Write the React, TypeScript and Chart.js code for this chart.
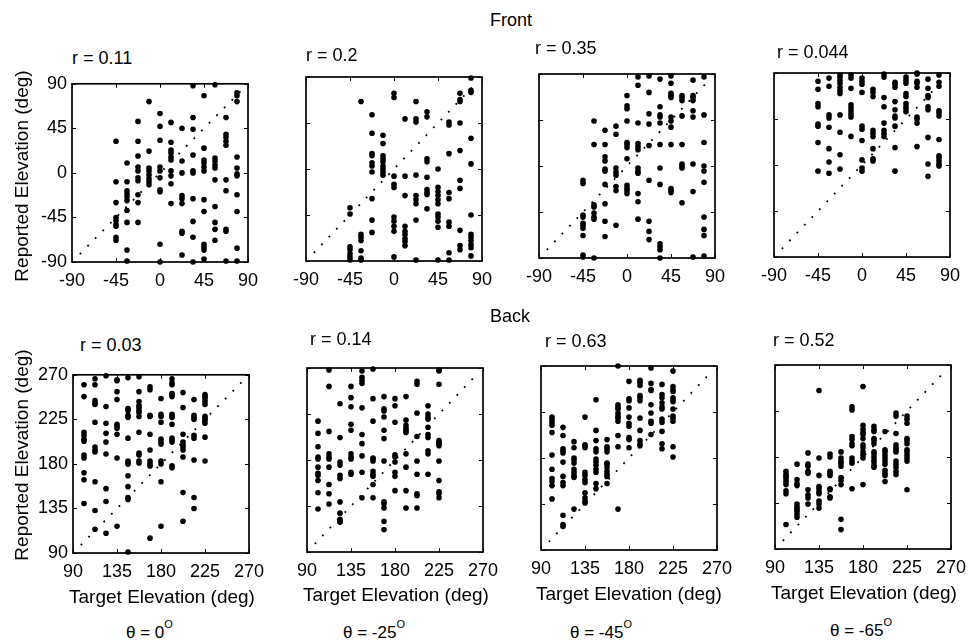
import React, { useEffect, useRef } from 'react';
import { Chart, registerables } from 'chart.js';

Chart.register(...registerables);

const FONT = '"Liberation Sans", Arial, Helvetica, sans-serif';

// ---------- data ----------
const frontTargets = [-45, -33.75, -22.5, -11.25, 0, 11.25, 22.5, 33.75, 45, 56.25, 67.5, 78.75];
const backTargets = [101.25, 112.5, 123.75, 135, 146.25, 157.5, 168.75, 180, 191.25, 202.5, 213.75, 225];
const frontTicks = [-90, -45, 0, 45, 90];
const backTicks = [90, 135, 180, 225, 270];
const frontDiagonal = [-82, 86];
const backDiagonal = [98, 266];

// reported elevations, one inner list per target (theta = 0, -25, -45, -65)
const front0 = [
  [32, -9, -30, -45, -48, -52, -54, -65, -68],
  [10, -9, -18, -21, -24, -28, -38, -50, -78, -89],
  [52, 32, 17, 6, 2, -5, -8, -22, -30, -50],
  [72, 22, 5, 2, -2, -6, -9, -12],
  [60, 47, 33, 6, 2, -5, -17, -19, -72, -90],
  [51, 31, 23, 20, 16, 13, 2, -3, -11, -31],
  [45, 12, 0, -23, -26, -31, -59, -61, -83],
  [88, 56, 44, 18, 2, 0, -26, -49, -65, -90],
  [78, 25, 13, 10, 6, 2, -27, -39, -72, -75, -78, -87],
  [89, 15, 12, 8, 5, -7, -34, -50, -57, -68],
  [56, 39, 36, 32, 28, -7, -18, -57, -59, -89],
  [81, 78, 72, 16, 5, -1, -3, -22, -39, -76, -89],
];
const front1 = [
  [-38, -44, -76, -79, -83, -86, -89],
  [66, -64, -67, -70, -80, -87, -89],
  [53, 35, 15, 13, 6, 3, -3, -29, -50, -62],
  [33, 25, 13, 10, 7, 3, 0, -3, -6],
  [74, 70, -7, -15, -18, -47, -51, -56, -61, -86],
  [49, -7, -26, -56, -61, -64, -68, -71, -75],
  [66, 49, 46, -6, -26, -30, -34, -50, -89],
  [56, 51, 10, 7, -8, -20, -23, -25, -39],
  [0, -18, -22, -26, -30, -34, -44, -47, -51, -57, -89],
  [46, 43, 15, -23, -29, -52, -56, -82, -89],
  [74, 68, 66, 45, 18, -11, -19, -60, -75, -79],
  [89, 77, 75, 30, 5, -45, -64, -67, -70, -74, -77, -85],
];
const front2 = [
  [-14, -17, -48, -50, -56, -58, -61, -68, -87, -89],
  [44, 21, -38, -40, -46, -50, -52, -90],
  [35, 21, 9, 5, -3, -5, -18, -37, -54, -69],
  [39, 31, -2, -6, -9, -20, -24, -58],
  [69, 59, 56, 44, 23, 21, 18, 7, -19, -22, -24, -27],
  [87, 79, 42, 22, 19, 16, -2, -5, -7, -27, -35, -52],
  [88, 72, 51, 41, 20, -14, -54, -64, -72],
  [85, 58, 50, 48, 42, 21, -2, -18, -76, -79, -82, -90],
  [88, 81, 71, 69, 67, 48, 44, 38, 21, -22, -24, -26],
  [69, 67, 64, 49, 21, 2, 0, -2, -36],
  [84, 69, 67, 64, 54, 48, 2, -25, -89],
  [87, 50, 23, 0, -5, -16, -50, -62, -68, -88],
];
const front3 = [
  [82, 74, 60, 57, 40, 38, 22, -6],
  [85, 77, 49, 46, 37, 16, 3, -8],
  [88, 86, 83, 80, 76, 73, 70, 49, 32, 10, -4],
  [88, 85, 75, 59, 56, 53, 50, 47, 28],
  [85, 82, 79, 71, 38, 35, 24, 5, -3, -6],
  [74, 71, 67, 34, 31, 28, 16, 6, 4],
  [89, 86, 66, 57, 41, 34, 31, 28],
  [81, 79, 76, 62, 54, 48, 46, 38, 17, -6],
  [86, 83, 80, 70, 67, 60, 57, 55, 52],
  [90, 89, 82, 80, 76, 47, 45, 41, 18],
  [84, 75, 68, 66, 57, 54, 27, 1, -11],
  [88, 81, 77, 53, 51, 48, 25, 9, 7, 4, 1, -1],
];
const back0 = [
  [260, 248, 212, 209, 205, 203, 189, 186, 171, 164, 140],
  [266, 260, 244, 241, 240, 222, 197, 194, 192, 162, 133, 114],
  [269, 238, 221, 211, 202, 190, 155, 142, 110],
  [265, 264, 253, 245, 220, 218, 216, 210, 186, 117],
  [267, 236, 234, 229, 227, 206, 183, 181, 180, 168, 157, 146, 144, 91],
  [268, 253, 243, 239, 237, 234, 232, 228, 212, 191, 189, 183, 181],
  [258, 255, 229, 228, 210, 194, 183, 180, 178, 105],
  [246, 230, 228, 222, 205, 202, 200, 183, 180, 162, 117],
  [266, 262, 260, 251, 250, 248, 230, 228, 227, 220, 206, 204, 202, 178, 176],
  [252, 237, 210, 202, 199, 197, 194, 187, 151, 122],
  [245, 229, 227, 225, 209, 206, 184, 146, 135],
  [250, 248, 246, 243, 240, 228, 226, 224, 221, 207, 183],
];
const back1 = [
  [218, 206, 193, 183, 181, 173, 167, 165, 160, 148, 132],
  [268, 252, 208, 186, 183, 181, 173, 156, 147, 137],
  [235, 202, 178, 175, 165, 162, 139, 128, 122, 120, 119],
  [252, 241, 232, 215, 209, 186, 183, 181, 168, 166],
  [267, 261, 258, 255, 231, 205, 196, 184, 168, 143],
  [269, 240, 218, 182, 181, 179, 169, 166, 164, 156, 143],
  [242, 230, 228, 222, 209, 201, 179, 139, 137, 133, 120, 112],
  [240, 233, 217, 185, 183, 178, 168, 164, 150],
  [242, 219, 214, 211, 209, 207, 186, 173, 150, 133],
  [257, 254, 226, 203, 179, 166, 147, 145, 133],
  [233, 225, 222, 220, 212, 205, 202, 189, 186, 166],
  [268, 267, 254, 199, 197, 196, 194, 179, 160, 149, 147, 143],
];
const back2 = [
  [220, 218, 215, 212, 205, 183, 169, 160, 157, 153, 140],
  [210, 202, 189, 187, 185, 176, 162, 156, 153, 124, 115, 113],
  [196, 190, 180, 178, 175, 169, 166, 163, 161, 130],
  [220, 193, 192, 190, 166, 163, 159, 156, 146, 141, 138, 136],
  [237, 207, 197, 189, 186, 179, 176, 173, 169, 166, 155, 150],
  [198, 191, 189, 186, 175, 174, 171, 167, 164, 162, 155],
  [270, 232, 230, 228, 224, 221, 219, 216, 202, 191, 130],
  [255, 238, 236, 229, 220, 214, 211, 200, 198, 190],
  [256, 254, 251, 241, 239, 236, 219, 207, 197, 194, 192],
  [268, 253, 247, 246, 232, 224, 216, 214, 203],
  [252, 242, 239, 234, 230, 228, 218, 215, 206, 194, 189],
  [265, 250, 247, 245, 239, 237, 235, 228, 221, 219, 216, 191, 181],
];
const back3 = [
  [166, 163, 161, 159, 156, 153, 147, 144, 114],
  [173, 158, 154, 152, 134, 131, 129, 127, 124, 121],
  [184, 173, 171, 166, 164, 148, 143, 140, 134],
  [245, 179, 162, 151, 149, 146, 144, 137, 134, 130],
  [183, 180, 166, 164, 162, 149, 148, 141, 140],
  [185, 179, 176, 174, 171, 160, 157, 153, 119, 109],
  [229, 226, 200, 197, 193, 191, 179, 176, 174, 149],
  [249, 211, 207, 204, 202, 198, 192, 189, 185, 182, 179, 153],
  [210, 207, 205, 198, 196, 193, 185, 183, 180, 177, 175, 172, 170],
  [205, 187, 185, 182, 179, 176, 173, 167, 164, 162, 156],
  [223, 220, 203, 192, 189, 187, 185, 176, 173, 170, 166, 163],
  [220, 217, 213, 198, 196, 193, 187, 185, 182, 179, 176, 148],
];

const frontR = ['r = 0.11', 'r = 0.2', 'r = 0.35', 'r = 0.044'];
const backR = ['r = 0.03', 'r = 0.14', 'r = 0.63', 'r = 0.52'];
const thetaLabels = ['θ = 0', 'θ = -25', 'θ = -45', 'θ = -65'];

// ---------- layout ----------
const BOX_W = 176;
const BOX_H = 184;
const PAD_L = 60;
const PAD_T = 10;
const PAD_R = 30;
const PAD_B = 35;

const framePlugin = {
  id: 'matlabFrame',
  afterDatasetsDraw(chart: any) {
    const { ctx, chartArea: a, scales } = chart;
    ctx.save();
    ctx.strokeStyle = '#000';
    ctx.lineWidth = 1;
    const tl = 4;
    scales.x.ticks.forEach((t: any) => {
      const px = Math.round(scales.x.getPixelForValue(t.value)) + 0.5;
      ctx.beginPath();
      ctx.moveTo(px, a.bottom);
      ctx.lineTo(px, a.bottom - tl);
      ctx.moveTo(px, a.top);
      ctx.lineTo(px, a.top + tl);
      ctx.stroke();
    });
    scales.y.ticks.forEach((t: any) => {
      const py = Math.round(scales.y.getPixelForValue(t.value)) + 0.5;
      ctx.beginPath();
      ctx.moveTo(a.left, py);
      ctx.lineTo(a.left + tl, py);
      ctx.moveTo(a.right, py);
      ctx.lineTo(a.right - tl, py);
      ctx.stroke();
    });
    ctx.lineWidth = 1.7;
    ctx.strokeRect(a.left, a.top, a.right - a.left, a.bottom - a.top);
    ctx.restore();
  },
};

type PanelProps = {
  left: number;
  top: number;
  targets: number[];
  rows: number[][];
  ticks: number[];
  diagonal: number[];
  showYLabels: boolean;
};

function Panel({ left, top, targets, rows, ticks, diagonal, showYLabels }: PanelProps) {
  const ref = useRef<HTMLCanvasElement | null>(null);
  useEffect(() => {
    if (!ref.current) return;
    const pts = targets.flatMap((t, i) => rows[i].map((v) => ({ x: t, y: v })));
    const axis = (isY: boolean) => ({
      type: 'linear' as const,
      min: ticks[0],
      max: ticks[ticks.length - 1],
      grid: { display: false, drawTicks: false },
      border: { display: false },
      ticks: {
        display: isY ? showYLabels : true,
        stepSize: 45,
        autoSkip: false,
        maxRotation: 0,
        padding: isY ? 5 : 8,
        color: '#000',
        font: { family: FONT, size: 18 },
      },
      afterFit: (s: any) => {
        if (isY) s.width = PAD_L;
        else s.height = PAD_B;
      },
    });
    const chart = new Chart(ref.current, {
      type: 'scatter',
      data: {
        datasets: [
          {
            data: [
              { x: diagonal[0], y: diagonal[0] },
              { x: diagonal[1], y: diagonal[1] },
            ],
            showLine: true,
            borderColor: '#000',
            borderWidth: 1.8,
            borderDash: [1.8, 9],
            pointRadius: 0,
            clip: false,
          } as any,
          {
            data: pts,
            pointRadius: 2.8,
            pointBackgroundColor: '#000',
            pointBorderWidth: 0,
            clip: false,
          } as any,
        ],
      },
      options: {
        animation: false,
        responsive: false,
        devicePixelRatio: 1,
        layout: { padding: { top: PAD_T, right: PAD_R, left: 0, bottom: 0 } },
        plugins: { legend: { display: false }, tooltip: { enabled: false } },
        events: [],
        scales: { x: axis(false), y: axis(true) },
      } as any,
      plugins: [framePlugin],
    });
    return () => chart.destroy();
  }, []);
  const w = BOX_W + PAD_L + PAD_R;
  const h = BOX_H + PAD_T + PAD_B;
  return (
    <canvas
      ref={ref}
      width={w}
      height={h}
      style={{ position: 'absolute', left: left - PAD_L, top: top - PAD_T, width: w, height: h }}
    />
  );
}

const baseText: React.CSSProperties = {
  position: 'absolute',
  fontFamily: FONT,
  color: '#000',
  lineHeight: 1,
  whiteSpace: 'nowrap',
};

export default function App() {
  const topBoxes = [
    [72, 78],
    [306, 77],
    [539, 74],
    [774, 73],
  ];
  const bottomBoxes = [
    [73, 369],
    [307, 368],
    [541, 366],
    [775, 365],
  ];
  const frontData = [front0, front1, front2, front3];
  const backData = [back0, back1, back2, back3];
  const frontRPos = [
    [72, 58],
    [306, 55],
    [535, 48],
    [777, 52],
  ];
  const backRPos = [
    [80, 345],
    [310, 339],
    [545, 341],
    [773, 340],
  ];
  const targetLabelPos = [
    [162, 596],
    [396, 594],
    [629, 593],
    [864, 592],
  ];
  const thetaPos = [
    [126, 632],
    [343, 632],
    [570, 632],
    [830, 630],
  ];
  return (
    <div
      style={{
        position: 'absolute',
        left: 0,
        top: 0,
        width: 971,
        height: 643,
        background: '#fff',
        overflow: 'hidden',
      }}
    >
      {topBoxes.map(([l, t], i) => (
        <Panel
          key={'f' + i}
          left={l}
          top={t}
          targets={frontTargets}
          rows={frontData[i]}
          ticks={frontTicks}
          diagonal={frontDiagonal}
          showYLabels={i === 0}
        />
      ))}
      {bottomBoxes.map(([l, t], i) => (
        <Panel
          key={'b' + i}
          left={l}
          top={t}
          targets={backTargets}
          rows={backData[i]}
          ticks={backTicks}
          diagonal={backDiagonal}
          showYLabels={i === 0}
        />
      ))}
      <div style={{ ...baseText, left: 511, top: 20, fontSize: 18, transform: 'translate(-50%,-50%)' }}>Front</div>
      <div style={{ ...baseText, left: 510, top: 316, fontSize: 18, transform: 'translate(-50%,-50%)' }}>Back</div>
      {frontR.map((s, i) => (
        <div key={'fr' + i} style={{ ...baseText, left: frontRPos[i][0], top: frontRPos[i][1], fontSize: 18, transform: 'translateY(-50%)' }}>
          {s}
        </div>
      ))}
      {backR.map((s, i) => (
        <div key={'br' + i} style={{ ...baseText, left: backRPos[i][0], top: backRPos[i][1], fontSize: 18, transform: 'translateY(-50%)' }}>
          {s}
        </div>
      ))}
      {[176, 455].map((cy, i) => (
        <div
          key={'yl' + i}
          style={{ ...baseText, left: 21, top: cy, fontSize: 19, transform: 'translate(-50%,-50%) rotate(-90deg)' }}
        >
          Reported Elevation (deg)
        </div>
      ))}
      {targetLabelPos.map(([cx, cy], i) => (
        <div key={'xl' + i} style={{ ...baseText, left: cx, top: cy, fontSize: 19, transform: 'translate(-50%,-50%)' }}>
          Target Elevation (deg)
        </div>
      ))}
      {thetaLabels.map((s, i) => (
        <div key={'th' + i} style={{ ...baseText, left: thetaPos[i][0], top: thetaPos[i][1], fontSize: 17, transform: 'translateY(-50%)' }}>
          {s}
          <span style={{ fontSize: 11, position: 'relative', top: -10 }}>O</span>
        </div>
      ))}
    </div>
  );
}
